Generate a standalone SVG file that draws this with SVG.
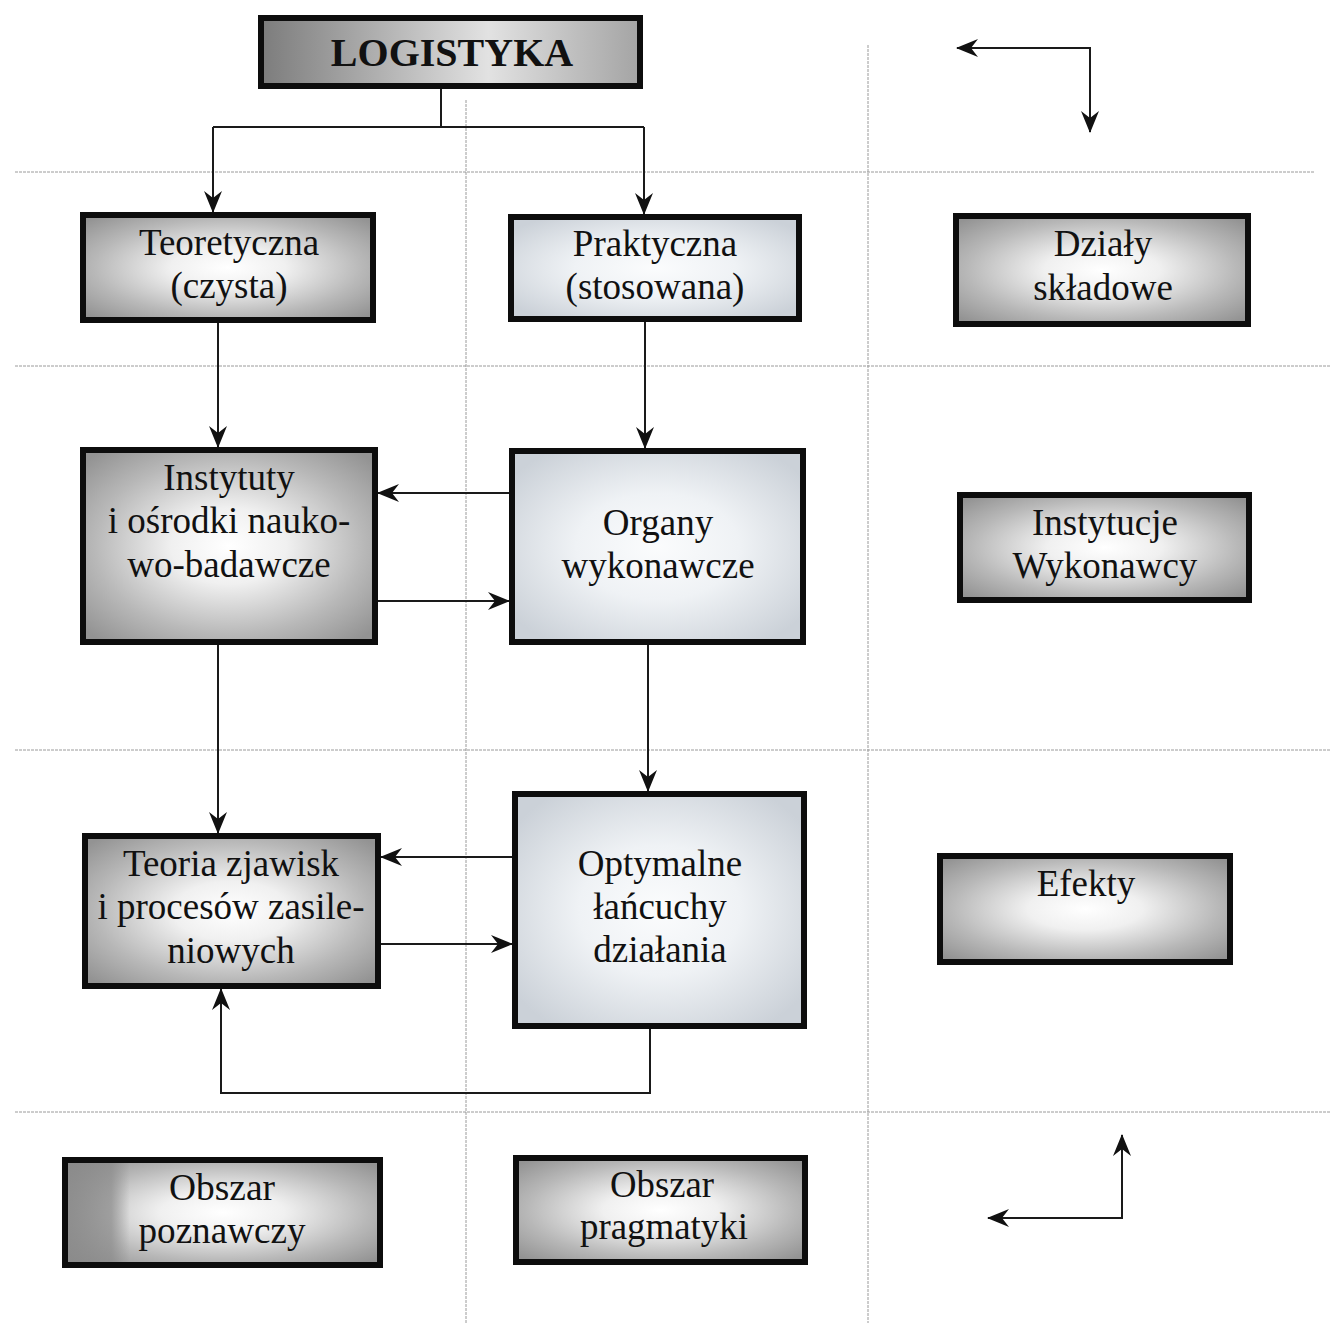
<svg xmlns="http://www.w3.org/2000/svg" width="1330" height="1323" viewBox="0 0 1330 1323">
  <style>
    .grid { stroke: #9a9a9a; stroke-width: 1; stroke-dasharray: 3 1; fill: none; }
    .link { stroke: #1a1a1a; stroke-width: 2; fill: none; }
    .box { stroke: #0d0d0d; stroke-width: 6; }
    .dark { fill: url(#gDark); }
    .light { fill: url(#gLight); }
    .lbl { font-family: "Liberation Serif", "Times New Roman", serif; font-size: 37px; fill: #111; text-anchor: middle; }
    .title { font-family: "Liberation Serif", "Times New Roman", serif; font-size: 40px; font-weight: bold; fill: #111; text-anchor: middle; }
  </style>
  <defs>
    <radialGradient id="gDark" cx="0.5" cy="0.5" r="0.66">
      <stop offset="0" stop-color="#ffffff"/>
      <stop offset="0.3" stop-color="#f0f0f0"/>
      <stop offset="0.7" stop-color="#b8b8b8"/>
      <stop offset="1" stop-color="#939393"/>
    </radialGradient>
    <radialGradient id="gLight" cx="0.5" cy="0.5" r="0.62">
      <stop offset="0" stop-color="#fbfcfd"/>
      <stop offset="0.45" stop-color="#eff2f5"/>
      <stop offset="1" stop-color="#cbd1d8"/>
    </radialGradient>
    <linearGradient id="gTitle" x1="0" y1="0" x2="1" y2="0">
      <stop offset="0" stop-color="#7c7c7c"/>
      <stop offset="0.25" stop-color="#a6a6a6"/>
      <stop offset="0.6" stop-color="#e2e2e2"/>
      <stop offset="1" stop-color="#a4a4a4"/>
    </linearGradient>
    <linearGradient id="gBand" x1="0" y1="0" x2="1" y2="0">
      <stop offset="0" stop-color="#8a8a8a" stop-opacity="0.9"/>
      <stop offset="0.14" stop-color="#8a8a8a" stop-opacity="0.7"/>
      <stop offset="0.2" stop-color="#8a8a8a" stop-opacity="0"/>
    </linearGradient>
    <marker id="arrow" viewBox="0 0 22 18" markerWidth="22" markerHeight="18" refX="21" refY="9" orient="auto" markerUnits="userSpaceOnUse">
      <path d="M0,0 L22,9 L0,18 L7,9 Z" fill="#111"/>
    </marker>
  </defs>

  <rect width="1330" height="1323" fill="#ffffff"/>

  <!-- section dividers -->
  <g id="dividers">
    <line class="grid" x1="15" y1="172" x2="1315" y2="172"/>
    <line class="grid" x1="15" y1="366" x2="1330" y2="366"/>
    <line class="grid" x1="15" y1="750" x2="1330" y2="750"/>
    <line class="grid" x1="15" y1="1112" x2="1330" y2="1112"/>
    <line class="grid" x1="466" y1="100" x2="466" y2="1323"/>
    <line class="grid" x1="868" y1="45" x2="868" y2="1323"/>
  </g>

  <!-- connectors -->
  <g id="connectors">
    <path class="link" d="M441,89 V127 M213,127 H644"/>
    <path class="link" d="M213,127 V212" marker-end="url(#arrow)"/>
    <path class="link" d="M644,127 V214" marker-end="url(#arrow)"/>
    <path class="link" d="M218,323 V447" marker-end="url(#arrow)"/>
    <path class="link" d="M645,322 V448" marker-end="url(#arrow)"/>
    <path class="link" d="M509,493 H378" marker-end="url(#arrow)"/>
    <path class="link" d="M378,601 H509" marker-end="url(#arrow)"/>
    <path class="link" d="M218,645 V833" marker-end="url(#arrow)"/>
    <path class="link" d="M648,645 V791" marker-end="url(#arrow)"/>
    <path class="link" d="M512,857 H381" marker-end="url(#arrow)"/>
    <path class="link" d="M381,944 H512" marker-end="url(#arrow)"/>
    <path class="link" d="M650,1029 V1093 H221 V989" marker-end="url(#arrow)"/>
    <!-- legend corner arrows -->
    <path class="link" d="M1090,48 H957" marker-end="url(#arrow)"/>
    <path class="link" d="M1090,47 V132" marker-end="url(#arrow)"/>
    <path class="link" d="M1122,1219 V1135" marker-end="url(#arrow)"/>
    <path class="link" d="M1123,1218 H988" marker-end="url(#arrow)"/>
  </g>

  <!-- nodes -->
  <g id="logistyka">
    <rect class="box" x="261" y="18" width="379" height="68" fill="url(#gTitle)"/>
    <text class="title" x="452" y="66">LOGISTYKA</text>
  </g>

  <g id="teoretyczna">
    <rect class="box dark" x="83" y="215" width="290" height="105"/>
    <text class="lbl" x="229" y="255">Teoretyczna</text>
    <text class="lbl" x="229" y="298">(czysta)</text>
  </g>

  <g id="praktyczna">
    <rect class="box light" x="511" y="217" width="288" height="102"/>
    <text class="lbl" x="655" y="256">Praktyczna</text>
    <text class="lbl" x="655" y="299">(stosowana)</text>
  </g>

  <g id="dzialy">
    <rect class="box dark" x="956" y="216" width="292" height="108"/>
    <text class="lbl" x="1103" y="256">Działy</text>
    <text class="lbl" x="1103" y="300">składowe</text>
  </g>

  <g id="instytuty">
    <rect class="box dark" x="83" y="450" width="292" height="192"/>
    <text class="lbl" x="229" y="490">Instytuty</text>
    <text class="lbl" x="229" y="533">i ośrodki nauko-</text>
    <text class="lbl" x="229" y="577">wo-badawcze</text>
  </g>

  <g id="organy">
    <rect class="box light" x="512" y="451" width="291" height="191"/>
    <text class="lbl" x="658" y="535">Organy</text>
    <text class="lbl" x="658" y="578">wykonawcze</text>
  </g>

  <g id="instytucje">
    <rect class="box dark" x="960" y="495" width="289" height="105"/>
    <text class="lbl" x="1105" y="535">Instytucje</text>
    <text class="lbl" x="1105" y="578">Wykonawcy</text>
  </g>

  <g id="teoria">
    <rect class="box dark" x="85" y="836" width="293" height="150"/>
    <text class="lbl" x="231" y="876">Teoria zjawisk</text>
    <text class="lbl" x="231" y="919">i procesów zasile-</text>
    <text class="lbl" x="231" y="963">niowych</text>
  </g>

  <g id="optymalne">
    <rect class="box light" x="515" y="794" width="289" height="232"/>
    <text class="lbl" x="660" y="876">Optymalne</text>
    <text class="lbl" x="660" y="919">łańcuchy</text>
    <text class="lbl" x="660" y="962">działania</text>
  </g>

  <g id="efekty">
    <rect class="box dark" x="940" y="856" width="290" height="106"/>
    <text class="lbl" x="1086" y="896">Efekty</text>
  </g>

  <g id="obszar-poznawczy">
    <rect class="box dark" x="65" y="1160" width="315" height="105"/>
    <rect x="68" y="1163" width="309" height="99" fill="url(#gBand)"/>
    <text class="lbl" x="222" y="1200" font-size="42" textLength="106" lengthAdjust="spacingAndGlyphs">Obszar</text>
    <text class="lbl" x="222" y="1243" font-size="42" textLength="167" lengthAdjust="spacingAndGlyphs">poznawczy</text>
  </g>

  <g id="obszar-pragmatyki">
    <rect class="box dark" x="516" y="1158" width="289" height="104"/>
    <text class="lbl" x="662" y="1197" font-size="42" textLength="104" lengthAdjust="spacingAndGlyphs">Obszar</text>
    <text class="lbl" x="664" y="1239" font-size="42" textLength="168" lengthAdjust="spacingAndGlyphs">pragmatyki</text>
  </g>
</svg>
